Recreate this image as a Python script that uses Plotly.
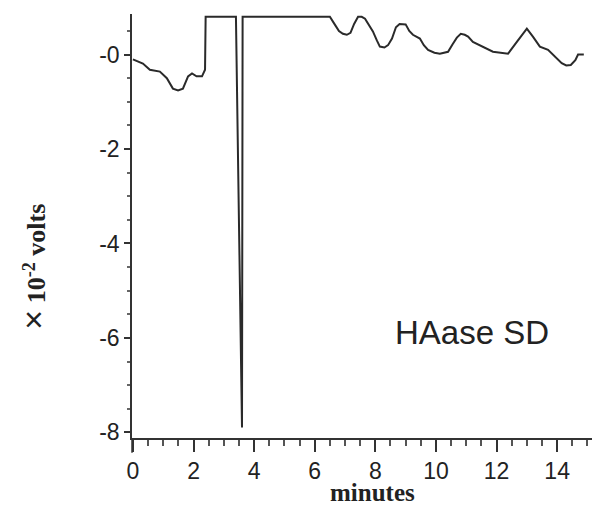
import plotly.graph_objects as go

minutes = [0, 0.33, 0.56, 0.89, 1.12, 1.32, 1.49, 1.65, 1.82, 1.95, 2.1, 2.28, 2.38, 2.4,
           3.4, 3.6, 3.62, 6.5, 6.67, 6.8, 6.93, 7.06, 7.18, 7.3, 7.43, 7.55, 7.66, 7.8, 7.92,
           8.05, 8.15, 8.3, 8.42, 8.55, 8.68, 8.8, 9.0, 9.12, 9.24, 9.47, 9.6, 9.74, 9.95,
           10.13, 10.4, 10.55, 10.69, 10.82, 10.95, 11.06, 11.22, 11.88, 12.2, 12.38, 12.67,
           13.0, 13.2, 13.43, 13.7, 13.85, 14.0, 14.15, 14.3, 14.45, 14.6, 14.69, 14.88]
volts = [-0.1, -0.19, -0.32, -0.36, -0.5, -0.72, -0.76, -0.72, -0.46, -0.4, -0.46, -0.46, -0.32, 0.8,
         0.8, -7.9, 0.8, 0.8, 0.63, 0.5, 0.44, 0.42, 0.46, 0.65, 0.8, 0.8, 0.76, 0.6, 0.49,
         0.3, 0.17, 0.15, 0.2, 0.34, 0.58, 0.65, 0.64, 0.5, 0.42, 0.34, 0.2, 0.1, 0.04,
         0.02, 0.06, 0.22, 0.36, 0.44, 0.42, 0.38, 0.27, 0.06, 0.03, 0.02, 0.27,
         0.55, 0.38, 0.17, 0.1, 0.0, -0.1, -0.18, -0.23, -0.22, -0.12, 0, 0]

x_ticks = [0, 2, 4, 6, 8, 10, 12, 14]
y_ticks = [0, -2, -4, -6, -8]
y_ticktext = ["-0", "-2", "-4", "-6", "-8"]

fig = go.Figure()
fig.add_trace(go.Scatter(x=minutes, y=volts, mode="lines",
                         line=dict(color="#2a2a2a", width=2), showlegend=False))

axis_font = dict(family="Liberation Sans, Arial", size=23, color="#222")
fig.update_layout(
    width=592, height=506,
    margin=dict(l=132, r=0, t=14, b=68),
    paper_bgcolor="white", plot_bgcolor="white",
    xaxis=dict(range=[-0.03, 15.15], tickvals=x_ticks, ticks="outside", ticklen=12,
               tickwidth=1.5, tickcolor="#333", showline=True, linecolor="#333", linewidth=1.5,
               showgrid=False, zeroline=False, tickfont=axis_font,
               minor=dict(dtick=0.5, tick0=0, ticks="outside", ticklen=6, tickcolor="#555",
                          showgrid=False)),
    yaxis=dict(range=[-8.12, 0.86], tickvals=y_ticks, ticktext=y_ticktext, ticks="outside",
               ticklen=6, tickwidth=1.5, tickcolor="#333", showline=True, linecolor="#333",
               linewidth=1.5, showgrid=False, zeroline=False, tickfont=axis_font,
               minor=dict(dtick=0.5, tick0=0, ticks="outside", ticklen=3, tickcolor="#666",
                          showgrid=False)),
    shapes=[dict(type="line", xref="paper", yref="paper", x0=0, x1=0, y0=0, y1=-0.035,
                 line=dict(color="#333", width=1.5))],
    annotations=[
        dict(text="HAase SD", xref="paper", yref="paper", x=0.739, y=0.248,
             showarrow=False, xanchor="center", yanchor="middle",
             font=dict(family="Liberation Sans, Arial", size=33, color="#222")),
        dict(text="<b>minutes</b>", xref="paper", yref="paper", x=0.522, y=-0.128,
             showarrow=False, xanchor="center", yanchor="middle",
             font=dict(family="Liberation Serif, Times New Roman", size=25, color="#222")),
        dict(text="<span style='font-family:Liberation Sans;font-size:34px'>×</span> <b>10<sup>-2</sup> volts</b>",
             xref="paper", yref="paper", x=-0.214, y=0.403, textangle=-90,
             showarrow=False, xanchor="center", yanchor="middle",
             font=dict(family="Liberation Serif, Times New Roman", size=26, color="#222")),
    ],
)

fig.write_html("out.html")
